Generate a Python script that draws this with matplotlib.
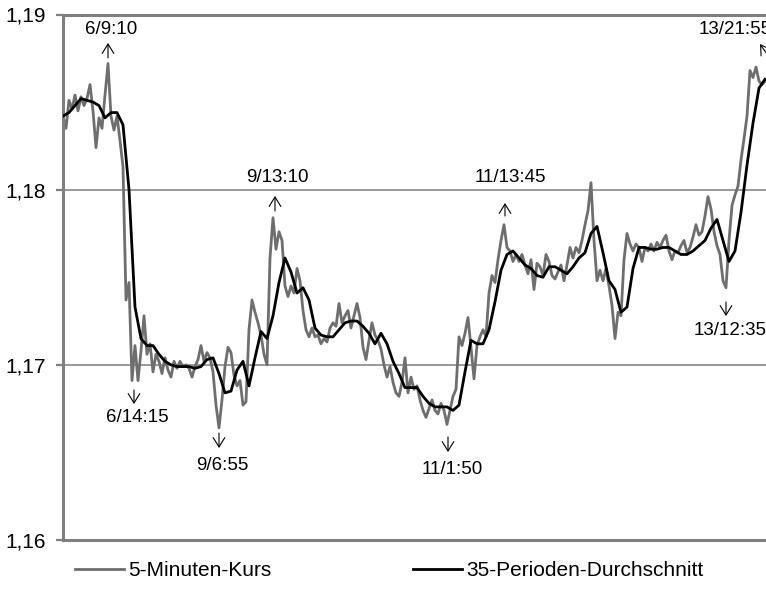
import numpy as np
import matplotlib
matplotlib.use("Agg")
import matplotlib.pyplot as plt

# 5-minute price (sampled), index positions
kurs = [
    1.1842, 1.1835, 1.1851, 1.1846, 1.1854, 1.1845, 1.1853, 1.1848, 1.1852, 1.1860,
    1.1845, 1.1824, 1.1841, 1.1835, 1.1854, 1.1872, 1.1842, 1.1834, 1.1842, 1.1828,
    1.1813, 1.1737, 1.1747, 1.1691, 1.1711, 1.1691, 1.1708, 1.1728, 1.1706, 1.1712,
    1.1696, 1.1706, 1.1702, 1.1695, 1.1704, 1.1697, 1.1693, 1.1702, 1.1698, 1.1702,
    1.1699, 1.1700, 1.1698, 1.1693, 1.1699, 1.1703, 1.1711, 1.1702, 1.1707, 1.1704,
    1.1696, 1.1677, 1.1664, 1.1680, 1.1699, 1.1710, 1.1707, 1.1694, 1.1688, 1.1691,
    1.1677, 1.1679, 1.1720, 1.1737, 1.1730, 1.1724, 1.1717, 1.1706, 1.1700, 1.1761,
    1.1784, 1.1766, 1.1776, 1.1771, 1.1745, 1.1739, 1.1745, 1.1741, 1.1755, 1.1748,
    1.1731, 1.1720, 1.1716, 1.1721, 1.1716, 1.1717, 1.1712, 1.1715, 1.1713, 1.1721,
    1.1724, 1.1722, 1.1735, 1.1724, 1.1728, 1.1731, 1.1721, 1.1728, 1.1735, 1.1727,
    1.1710, 1.1703, 1.1714, 1.1724, 1.1717, 1.1714, 1.1709, 1.1700, 1.1693, 1.1699,
    1.1690, 1.1684, 1.1682, 1.1690, 1.1704, 1.1684, 1.1693, 1.1686, 1.1688, 1.1680,
    1.1674, 1.1670, 1.1675, 1.1680, 1.1674, 1.1672, 1.1678, 1.1674, 1.1666, 1.1674,
    1.1682, 1.1686, 1.1716, 1.1711, 1.1718, 1.1727, 1.1710, 1.1692, 1.1711, 1.1716,
    1.1720, 1.1716, 1.1741, 1.1751, 1.1747, 1.1760, 1.1771, 1.1780, 1.1767, 1.1765,
    1.1759, 1.1763, 1.1759, 1.1763, 1.1757, 1.1752, 1.1760, 1.1743, 1.1758, 1.1756,
    1.1751, 1.1763, 1.1759, 1.1751, 1.1749, 1.1753, 1.1757, 1.1748, 1.1757, 1.1767,
    1.1761, 1.1767, 1.1764, 1.1771, 1.1780, 1.1788, 1.1804, 1.1771, 1.1748, 1.1754,
    1.1748, 1.1755, 1.1745, 1.1734, 1.1715, 1.1730, 1.1728, 1.1760, 1.1775, 1.1769,
    1.1765, 1.1769, 1.1767, 1.1759, 1.1767, 1.1765, 1.1769, 1.1765, 1.1770, 1.1767,
    1.1771, 1.1774, 1.1765, 1.1760, 1.1765, 1.1764, 1.1768, 1.1771, 1.1764, 1.1767,
    1.1773, 1.1780, 1.1774, 1.1776, 1.1785, 1.1796, 1.1789, 1.1776, 1.1768, 1.1763,
    1.1748, 1.1744, 1.1771, 1.1791, 1.1797, 1.1802, 1.1817, 1.1829, 1.1842, 1.1868,
    1.1864, 1.1870, 1.1862, 1.1860, 1.1862,
]

# 35-period moving average (sampled every second index)
durchschnitt = [
    1.1842, 1.1844, 1.1848, 1.1852, 1.1851, 1.1850, 1.1848, 1.1841, 1.1844, 1.1844,
    1.1837, 1.1800, 1.1733, 1.1715, 1.1711, 1.1711, 1.1706, 1.1702, 1.1700, 1.1699,
    1.1699, 1.1699, 1.1698, 1.1699, 1.1703, 1.1704, 1.1695, 1.1684, 1.1685, 1.1697,
    1.1702, 1.1688, 1.1704, 1.1719, 1.1715, 1.1728, 1.1747, 1.1761, 1.1753, 1.1741,
    1.1744, 1.1737, 1.1721, 1.1717, 1.1716, 1.1716, 1.1720, 1.1724, 1.1725, 1.1725,
    1.1722, 1.1718, 1.1712, 1.1718, 1.1712, 1.1702, 1.1695, 1.1687, 1.1687, 1.1687,
    1.1682, 1.1678, 1.1676, 1.1676, 1.1676, 1.1674, 1.1677, 1.1696, 1.1714, 1.1712,
    1.1712, 1.1720, 1.1736, 1.1754, 1.1763, 1.1765, 1.1761, 1.1757, 1.1755, 1.1751,
    1.1750, 1.1756, 1.1756, 1.1754, 1.1752, 1.1756, 1.1761, 1.1764, 1.1775, 1.1779,
    1.1764, 1.1748, 1.1743, 1.1730, 1.1733, 1.1755, 1.1767, 1.1767, 1.1766, 1.1766,
    1.1767, 1.1767, 1.1765, 1.1763, 1.1763, 1.1765, 1.1768, 1.1771, 1.1778, 1.1783,
    1.1771, 1.1759, 1.1765, 1.1787, 1.1814, 1.1838, 1.1858, 1.1863,
]

y_ticks = [1.16, 1.17, 1.18, 1.19]
y_tick_labels = ["1,16", "1,17", "1,18", "1,19"]
series_names = ["5-Minuten-Kurs", "35-Perioden-Durchschnitt"]

# annotation labels: (text, text_x, text_y, ha, arrow tail, arrow tip) in figure pixels from top-left
annotations = [
    ("6/9:10", 111, 30, "center", (108, 58), (108, 43)),
    ("9/13:10", 277, 178, "center", (275, 211), (275, 196)),
    ("11/13:45", 510, 178, "center", (505, 216), (505, 203)),
    ("13/21:55", 699, 30, "left", (771, 60), (760, 44)),
    ("6/14:15", 137, 418, "center", (134, 390), (134, 404)),
    ("9/6:55", 222, 465, "center", (219, 433), (219, 448)),
    ("11/1:50", 452, 470, "center", (448, 437), (448, 452)),
    ("13/12:35", 730, 330, "center", (726, 302), (726, 316)),
]

plt.rcParams['font.family'] = ['Liberation Sans', 'DejaVu Sans']

W, H = 766, 611
fig = plt.figure(figsize=(W / 100, H / 100), dpi=100)
ax = fig.add_axes([63 / W, (H - 540) / H, 708 / W, 525.5 / H])

x_kurs = np.arange(len(kurs))
x_ds = np.arange(len(durchschnitt)) * 2

grey = "#7f7f7f"
ax.plot(x_kurs, kurs, color="#6e6e6e", lw=2.0, label=series_names[0], zorder=2)
ax.plot(x_ds, durchschnitt, color="black", lw=2.0, label=series_names[1], zorder=3)

ax.set_xlim(0, 236)
ax.set_ylim(1.16, 1.19)
ax.set_yticks(y_ticks)
ax.set_yticklabels(y_tick_labels, fontsize=15)
ax.set_xticks([])
for yv in y_ticks[1:3]:
    ax.axhline(yv, color=grey, lw=1.1, zorder=1)

for s in ["left", "bottom", "top"]:
    ax.spines[s].set_color(grey)
    ax.spines[s].set_linewidth(2.2)
ax.spines["right"].set_visible(False)
ax.tick_params(axis="y", direction="out", length=5, width=1.6, color=grey, pad=7)

for label, tx, ty, ha, tail, tip in annotations:
    fig.text(tx / W, 1 - ty / H, label, ha=ha, va="center", fontsize=13.5)
    ax.annotate("", xy=(tip[0], H - tip[1]), xycoords="figure pixels",
                xytext=(tail[0], H - tail[1]), textcoords="figure pixels",
                arrowprops=dict(arrowstyle="->,head_length=0.45,head_width=0.28",
                                lw=0.8, color="black",
                                mutation_scale=15, shrinkA=0, shrinkB=0),
                annotation_clip=False)

fig.legend(loc="center", bbox_to_anchor=(389 / W, 1 - 571 / H), ncol=2,
           frameon=False, fontsize=15, handlelength=2.35, handletextpad=0.2,
           columnspacing=6.8)

fig.savefig("out.png", dpi=100)
